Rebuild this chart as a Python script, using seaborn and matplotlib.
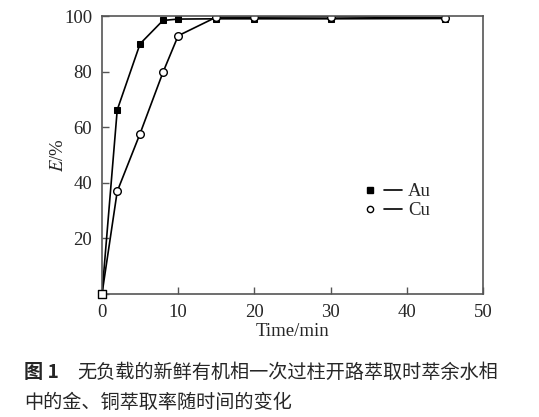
import matplotlib
matplotlib.use("Agg")
import matplotlib.pyplot as plt
import seaborn as sns
from matplotlib.lines import Line2D
from matplotlib.legend_handler import HandlerTuple

time_min = [0, 2, 5, 8, 10, 15, 20, 30, 45]
au_e = [0, 66.2, 90.0, 98.4, 98.9, 99.0, 99.0, 99.0, 99.1]
cu_e = [0, 36.9, 57.7, 79.7, 92.9, 99.6, 99.6, 99.7, 99.4]
x_ticks = [0, 10, 20, 30, 40, 50]
y_ticks = [0, 20, 40, 60, 80, 100]
caption_head = "图 1"
caption_line1 = "无负载的新鲜有机相一次过柱开路萃取时萃余水相"
caption_line2 = "中的金、铜萃取率随时间的变化"

sns.set_theme(style="white")
plt.rcParams["font.family"] = ["Liberation Serif", "DejaVu Serif"]
plt.rcParams["mathtext.fontset"] = "stix"

fig = plt.figure(figsize=(5.39, 4.17), dpi=100)
ax = fig.add_axes([0.1892, 0.295, 0.7068, 0.6666])

spine_col = "#555555"
sns.lineplot(x=time_min, y=au_e, ax=ax, color="black", lw=1.2, marker="s",
             markersize=5, markerfacecolor="black", markeredgecolor="black",
             markevery=list(range(1, len(time_min))), sort=False, legend=False)
sns.lineplot(x=time_min, y=cu_e, ax=ax, color="black", lw=1.2, marker="o",
             markersize=5.5, markerfacecolor="white", markeredgecolor="black",
             markeredgewidth=1.0, markevery=list(range(1, len(time_min))),
             sort=False, legend=False)
sns.scatterplot(x=time_min[:1], y=au_e[:1], ax=ax, marker="s", s=30,
                facecolor="white", edgecolor="black", linewidth=1.0, zorder=5,
                legend=False, clip_on=False)

ax.set_xlim(0, 50)
ax.set_ylim(0, 100)
ax.set_xticks(x_ticks)
ax.set_yticks(y_ticks)
ax.set_xticklabels([str(t) for t in x_ticks])
ax.set_yticklabels([""] + [str(t) for t in y_ticks[1:]])
ax.tick_params(axis="both", direction="in", length=5, width=1.0, color=spine_col,
               labelsize=13.5, pad=7, bottom=True, left=True, top=False, right=False)
for sp in ax.spines.values():
    sp.set_color(spine_col)
    sp.set_linewidth(1.2)
    sp.set_visible(True)
ax.grid(False)

ax.set_xlabel("Time/min", fontsize=13.5, labelpad=2)
ax.set_ylabel("$E$/%", fontsize=13.5, labelpad=-2)

h_au_m = Line2D([], [], ls="none", marker="s", markersize=4.5, color="black")
h_cu_m = Line2D([], [], ls="none", marker="o", markersize=4.5,
                markerfacecolor="white", markeredgecolor="black")
h_line = Line2D([], [], color="black", lw=1.2)
ax.legend([(h_au_m, h_line), (h_cu_m, h_line)], ["Au", "Cu"],
          handler_map={tuple: HandlerTuple(ndivide=None, pad=0.3)},
          loc="upper left", bbox_to_anchor=(0.66, 0.425), frameon=False,
          fontsize=13.5, handlelength=2.2, handletextpad=0.3,
          labelspacing=0.1, borderaxespad=0)

cjk = ["Noto Sans CJK SC", "DejaVu Sans"]
fig.text(24 / 539, 1 - 372 / 417, caption_head, fontsize=13.8, fontweight="bold",
         family=["Noto Sans CJK SC", "DejaVu Sans"], va="center", ha="left")
fig.text(77 / 539, 1 - 372 / 417, caption_line1, fontsize=13.8, family=cjk,
         va="center", ha="left")
fig.text(24 / 539, 1 - 402 / 417, caption_line2, fontsize=13.8, family=cjk,
         va="center", ha="left")

fig.savefig("out.png", dpi=100)
